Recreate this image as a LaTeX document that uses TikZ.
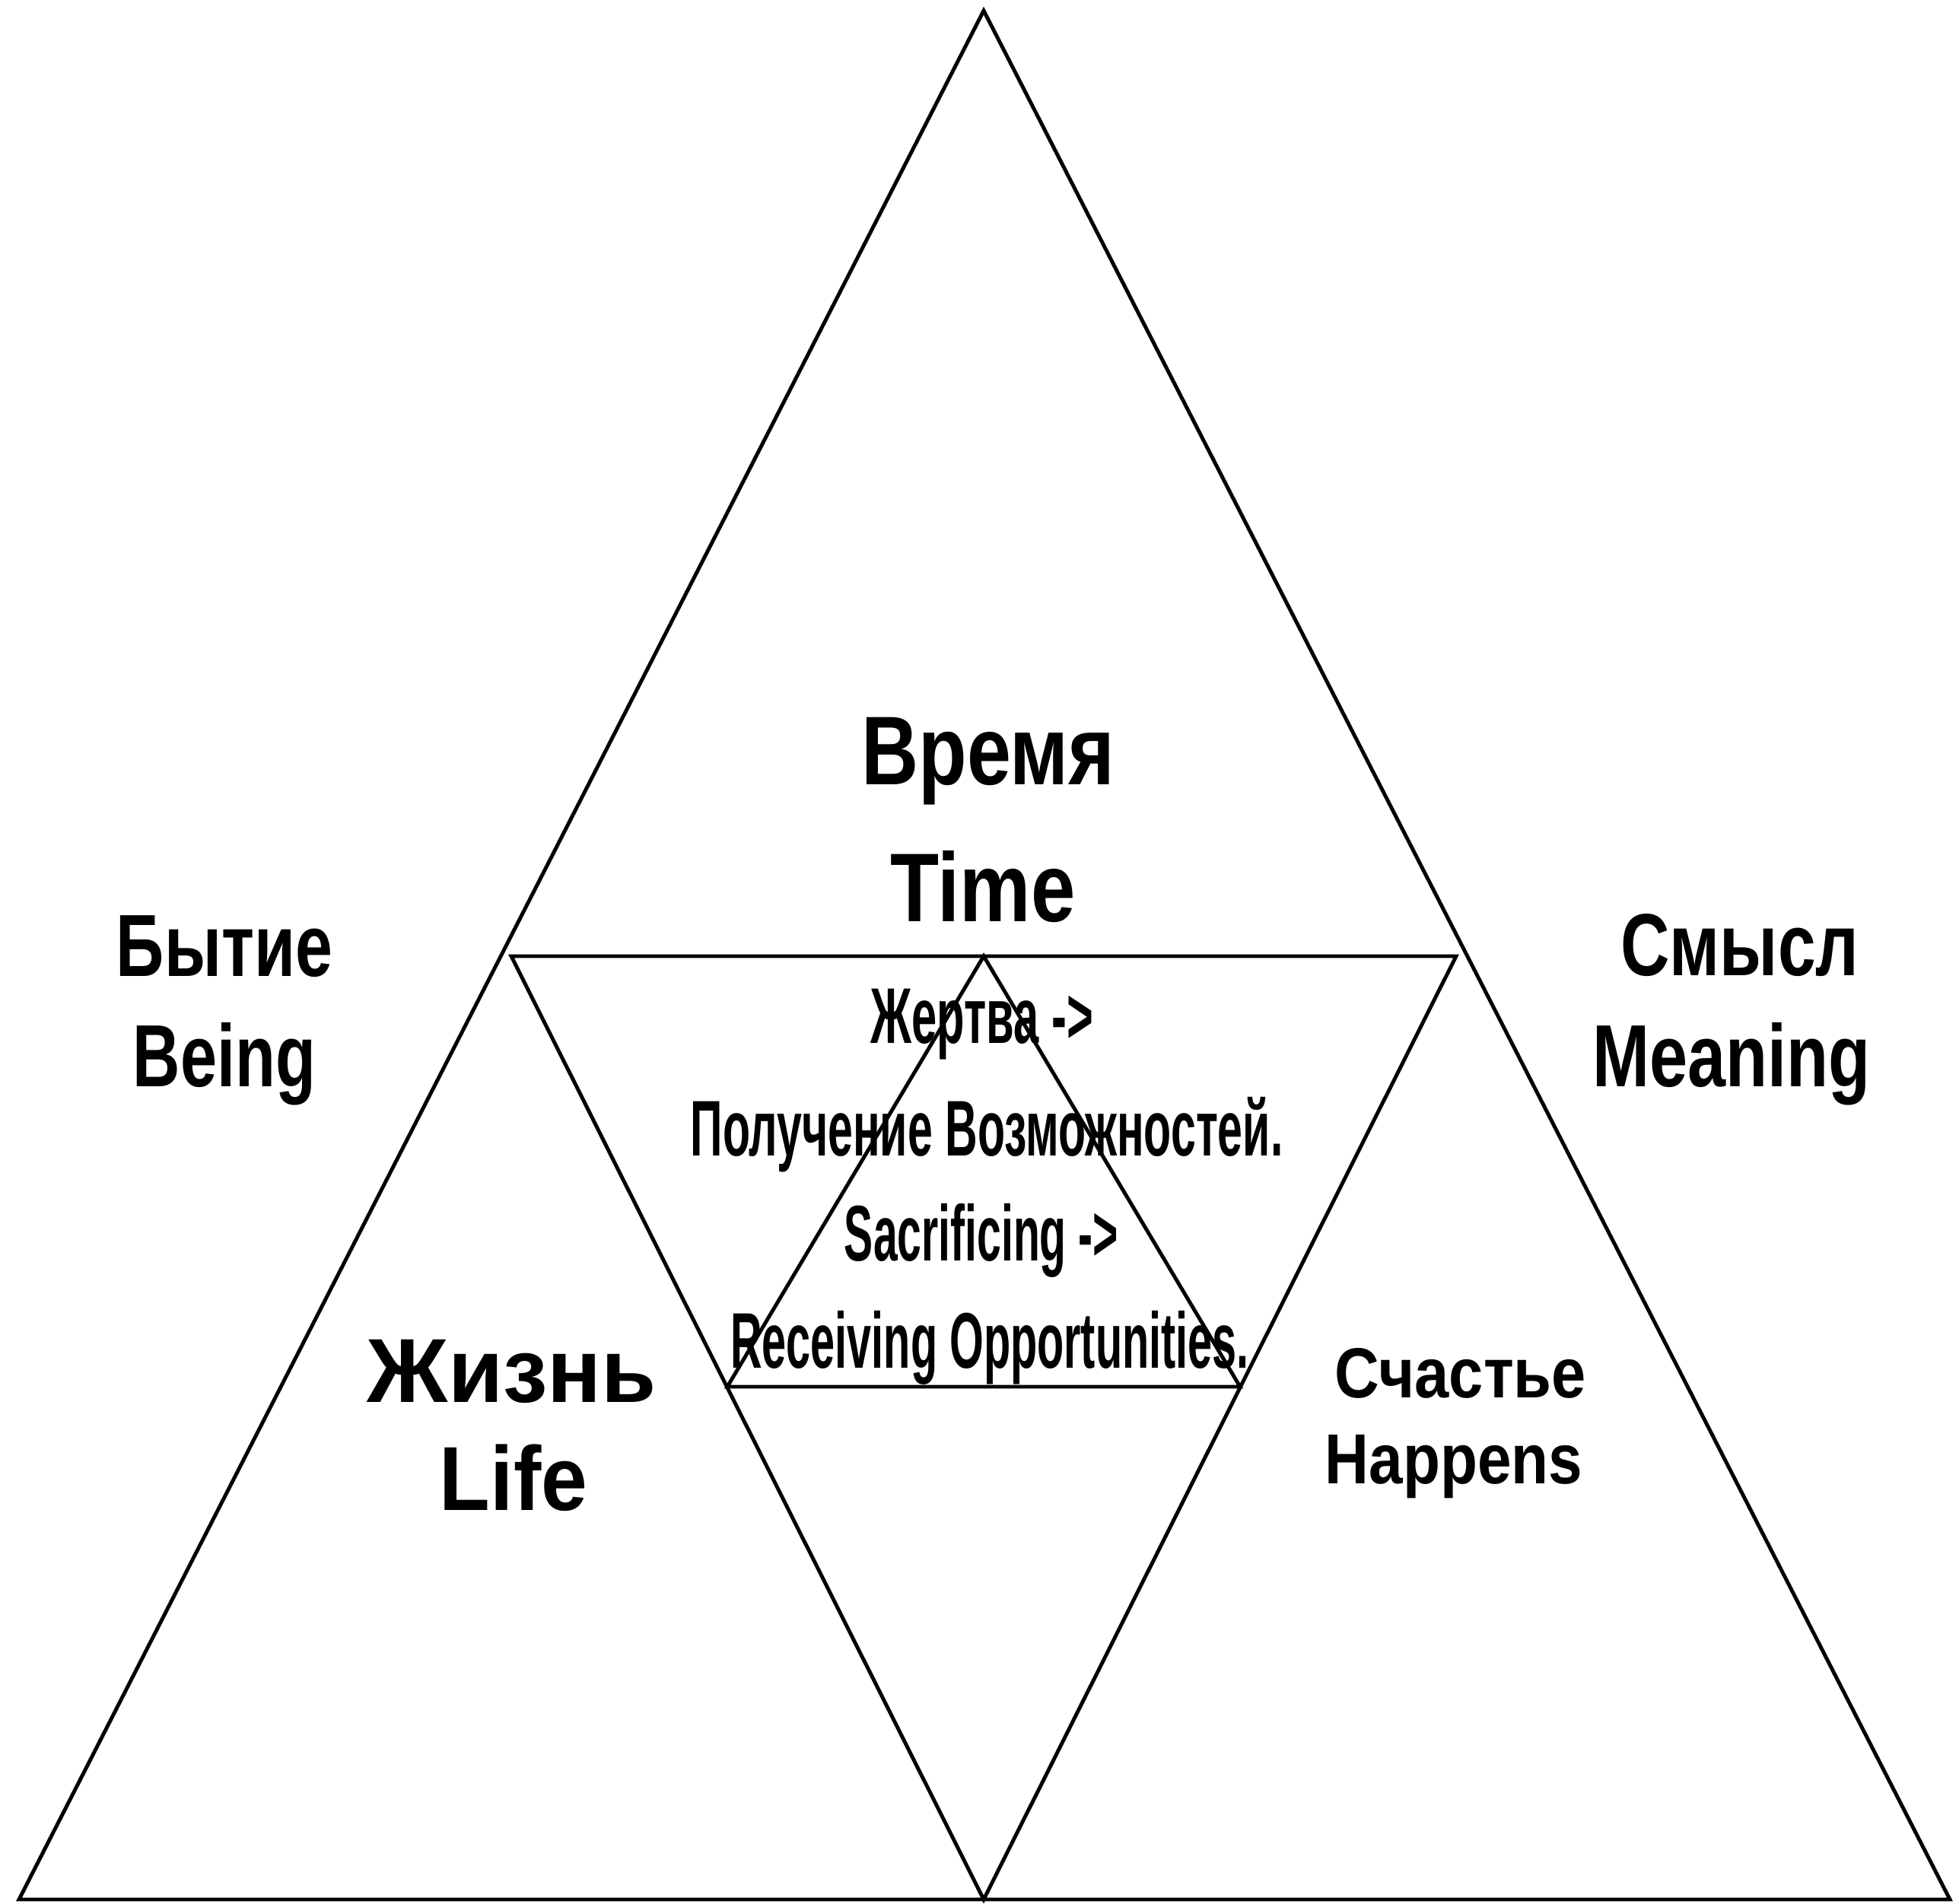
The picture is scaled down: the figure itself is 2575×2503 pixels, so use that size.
\documentclass[tikz,border=0pt]{standalone}
\usepackage{graphicx}
\usepackage{fontspec}
\setmainfont{Liberation Sans}
\newcommand{\fitw}[2]{\resizebox{#1}{\height}{#2}}
\begin{document}
\begin{tikzpicture}[x=0.01cm,y=-0.01cm,
  edge/.style={line width=1.4pt,line join=miter},
  lbl/.style={inner sep=0pt,anchor=base},
  big/.style={lbl,font=\bfseries\fontsize{36.5}{40}\selectfont},
  side/.style={lbl,font=\bfseries\fontsize{33}{38}\selectfont},
  life/.style={lbl,font=\bfseries\fontsize{34}{38}\selectfont},
  happy/.style={lbl,font=\bfseries\fontsize{26.5}{30}\selectfont},
  mid/.style={lbl,font=\bfseries\fontsize{29.5}{33}\selectfont}]
\useasboundingbox (0,0) rectangle (2575,2503);
\fill[white] (0,0) rectangle (2575,2503);
% outer triangle
\coordinate (A) at (1293,14);
\coordinate (BL) at (25,2497);
\coordinate (BR) at (2563,2497);
% inverted triangle
\coordinate (IL) at (672,1257);
\coordinate (IR) at (1914,1257);
\coordinate (IB) at (1293,2497);
% small inner triangle
\coordinate (SA) at (1293,1257);
\coordinate (SL) at (956,1823);
\coordinate (SR) at (1630,1823);
\draw[edge] (A) -- (BL) -- (BR) -- cycle;
\draw[edge] (IL) -- (IR) -- (IB) -- cycle;
\draw[edge] (SA) -- (SL) -- (SR) -- cycle;
% labels
\node[big] (vremya) at (1299,1031) {\fitw{94.7pt}{Время}};
\node[big] (time) at (1292,1211) {\fitw{69.1pt}{Time}};
\node[side] (bytie) at (295,1283) {\fitw{80.8pt}{Бытие}};
\node[side] (being) at (295,1428) {\fitw{68.3pt}{Being}};
\node[side] (smysl) at (2287,1282) {\fitw{89pt}{Смысл}};
\node[side] (meaning) at (2276,1428) {\fitw{103.9pt}{Meaning}};
\node[life] (zhizn) at (673,1843) {\fitw{108.1pt}{Жизнь}};
\node[life] (lifeen) at (675,1985) {\fitw{55.2pt}{Life}};
\node[happy] (schastie) at (1920,1837) {\fitw{93.9pt}{Счастье}};
\node[happy] (happens) at (1911,1950) {\fitw{96.2pt}{Happens}};
\node[mid] (m1) at (1291,1371) {\fitw{83.1pt}{Жертва ->}};
\node[mid] (m2) at (1297,1519) {\fitw{221.4pt}{Получение Возможностей.}};
\node[mid] (m3) at (1290,1657) {\fitw{102.4pt}{Sacrificing ->}};
\node[mid] (m4) at (1301,1798) {\fitw{193.8pt}{Receiving Opportunities.}};
\end{tikzpicture}
\end{document}
